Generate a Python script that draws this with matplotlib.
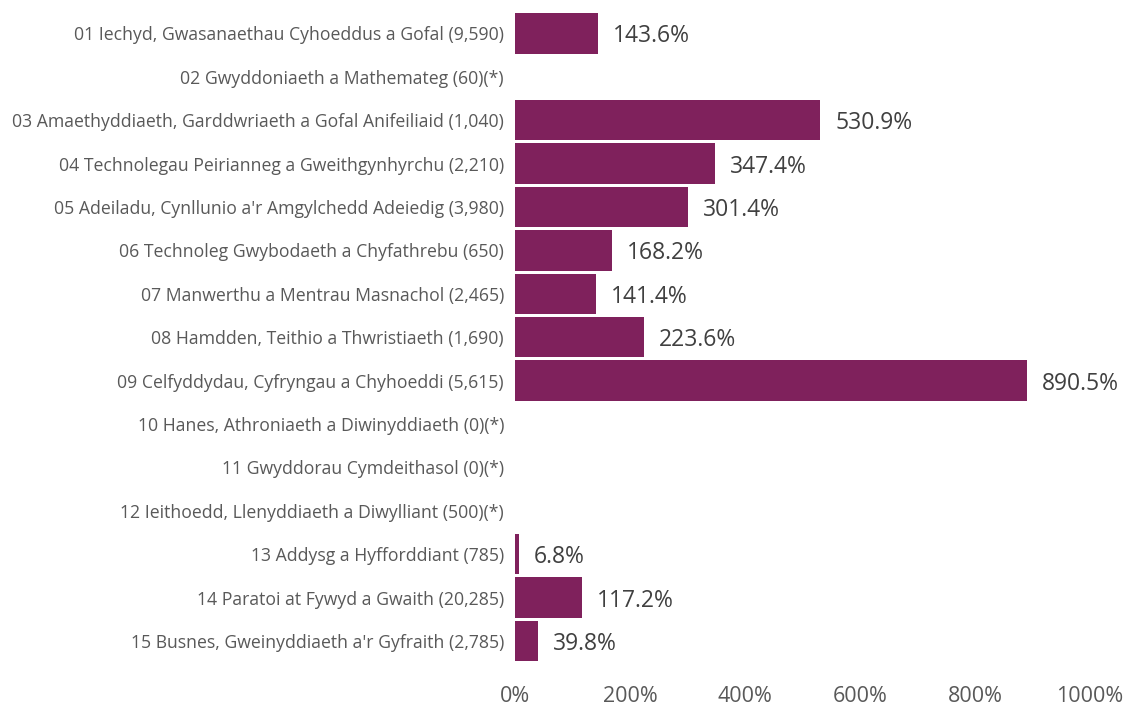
import numpy as np
import matplotlib
matplotlib.use("Agg")
import matplotlib.pyplot as plt

categories = [
    "01 Iechyd, Gwasanaethau Cyhoeddus a Gofal (9,590)",
    "02 Gwyddoniaeth a Mathemateg (60)(*)",
    "03 Amaethyddiaeth, Garddwriaeth a Gofal Anifeiliaid (1,040)",
    "04 Technolegau Peirianneg a Gweithgynhyrchu (2,210)",
    "05 Adeiladu, Cynllunio a'r Amgylchedd Adeiedig (3,980)",
    "06 Technoleg Gwybodaeth a Chyfathrebu (650)",
    "07 Manwerthu a Mentrau Masnachol (2,465)",
    "08 Hamdden, Teithio a Thwristiaeth (1,690)",
    "09 Celfyddydau, Cyfryngau a Chyhoeddi (5,615)",
    "10 Hanes, Athroniaeth a Diwinyddiaeth (0)(*)",
    "11 Gwyddorau Cymdeithasol (0)(*)",
    "12 Ieithoedd, Llenyddiaeth a Diwylliant (500)(*)",
    "13 Addysg a Hyfforddiant (785)",
    "14 Paratoi at Fywyd a Gwaith (20,285)",
    "15 Busnes, Gweinyddiaeth a'r Gyfraith (2,785)",
]
values = [143.6, np.nan, 530.9, 347.4, 301.4, 168.2, 141.4, 223.6, 890.5,
          np.nan, np.nan, np.nan, 6.8, 117.2, 39.8]
xticks = [0, 200, 400, 600, 800, 1000]
xtick_labels = ["0%", "200%", "400%", "600%", "800%", "1000%"]

plt.rcParams['font.family'] = ['Open Sans', 'DejaVu Sans']

fig = plt.figure(figsize=(11.23, 7.08), dpi=100)
ax = fig.add_axes([515/1123, 1-662.7/708, 575/1123, (662.7-11.8)/708])

y = np.arange(len(categories))
vals = np.array(values, dtype=float)
mask = ~np.isnan(vals)
ax.barh(y[mask], vals[mask], height=0.93, color="#7F215C")
for yi, v in zip(y[mask], vals[mask]):
    ax.annotate(f"{v:.1f}%", xy=(v, yi), xytext=(15, -3), textcoords="offset pixels",
                va="center", ha="left", fontsize=16.5, color="#404040")

ax.set_ylim(len(categories) - 0.5, -0.5)
ax.set_xlim(0, 1000)
ax.set_yticks(y)
ax.set_yticklabels(categories, fontsize=12.7, color="#595959")
ax.set_xticks(xticks)
ax.set_xticklabels(xtick_labels, fontsize=15.5, color="#595959")
ax.tick_params(axis="y", length=0, pad=8)
ax.tick_params(axis="x", length=0, pad=17)
for s in ax.spines.values():
    s.set_visible(False)

fig.savefig("out.png", dpi=100)
